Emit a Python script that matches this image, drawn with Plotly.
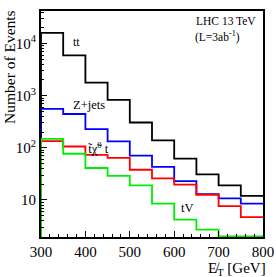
import plotly.graph_objects as go
import math

bin_edges = [300, 350, 400, 450, 500, 550, 600, 650, 700, 750, 800]
tt = [16000, 5900, 1780, 830, 306, 139, 62, 31, 19, 12]
zjets = [560, 445, 229, 133, 71, 43, 23, 13, 10.7, 8.5]
signal = [134, 106, 73, 64, 38, 26, 19.7, 12.6, 7.6, 4.7]
tv = [148, 77, 41, 29, 19, 8.5, 4.2, 2.7, 2.0, 2.0]

ymin, ymax = 1.95, 4.2e4
W, H = 276, 277
L, R, T, B = 41, 13, 11, 40
FONT = "Liberation Serif"

fig = go.Figure()

def step(vals, color):
    xs = [bin_edges[0]] + bin_edges[:-1] + [bin_edges[-1]]
    ys = [ymin] + list(vals) + [vals[-1]]
    fig.add_trace(go.Scatter(x=xs, y=ys, mode="lines", line=dict(color=color, width=1.8, shape="hv"),
                             showlegend=False, hoverinfo="skip"))

step(tt, "#000000")
step(zjets, "#0000ff")
step(signal, "#ff0000")
step(tv, "#00ee00")

pw = W - L - R
ph = H - T - B

def px(x, y):
    return (x - L) / pw, 1 - (y - T) / ph

annots = [
    ("tt", 76, 42, 12, "center"),
    ("Z+jets", 89, 105, 12.5, "center"),
    ("t\u0303\u03c7\u0303<sup>0</sup> t", 98, 148, 12.5, "center"),
    ("tV", 187, 208, 12.5, "center"),
    ("LHC 13 TeV", 226, 21, 11.5, "center"),
    ("(L=3ab<sup>-1</sup>)", 217, 36, 11.5, "center"),
]
for text, x, y, s, al in annots:
    ax_, ay_ = px(x, y)
    fig.add_annotation(text=text, x=ax_, y=ay_, xref="paper", yref="paper", showarrow=False,
                       font=dict(family=FONT, size=s, color="black"), xanchor=al, yanchor="middle")

ax_, ay_ = px(10, 67)
fig.add_annotation(text="Number of Events", x=ax_, y=ay_, xref="paper", yref="paper", showarrow=False,
                   textangle=-90, font=dict(family=FONT, size=15.5, color="black"), xanchor="center", yanchor="middle")
ax_, ay_ = px(237, 269)
fig.add_annotation(text="E\u0338<sub>T</sub> [GeV]", x=ax_, y=ay_, xref="paper", yref="paper", showarrow=False,
                   font=dict(family=FONT, size=15, color="black"), xanchor="center", yanchor="middle")

yminor = []
for d in [1, 10, 100, 1000, 10000]:
    for k in range(2, 10):
        yminor.append(k * d)

fig.update_layout(
    width=W, height=H,
    margin=dict(l=L, r=R, t=T, b=B, autoexpand=False),
    paper_bgcolor="white", plot_bgcolor="white",
    font=dict(family=FONT, size=15, color="black"),
    xaxis=dict(range=[300, 800], showgrid=False, zeroline=False, showline=True, mirror=True, automargin=False,
               linecolor="black", linewidth=2, ticks="inside", ticklen=6, tickwidth=1, tickcolor="black",
               tickvals=[300, 400, 500, 600, 700, 800],
               minor=dict(ticks="inside", ticklen=3, tickcolor="black", dtick=20, showgrid=False),
               tickfont=dict(family=FONT, size=15)),
    yaxis=dict(type="log", range=[math.log10(ymin), math.log10(ymax)], showgrid=False, zeroline=False,
               automargin=False,
               showline=True, mirror=True, linecolor="black", linewidth=2, ticks="inside", ticklen=6,
               tickwidth=1, tickcolor="black",
               tickvals=[10, 100, 1000, 10000],
               ticktext=["10", "10<sup>2</sup>", "10<sup>3</sup>", "10<sup>4</sup>"],
               minor=dict(ticks="inside", ticklen=3, tickcolor="black", tickvals=yminor, showgrid=False),
               tickfont=dict(family=FONT, size=15)),
)

fig.write_html("out.html", config={"displayModeBar": False},
               post_script="document.body.style.margin='0';document.body.style.overflow='hidden';")
